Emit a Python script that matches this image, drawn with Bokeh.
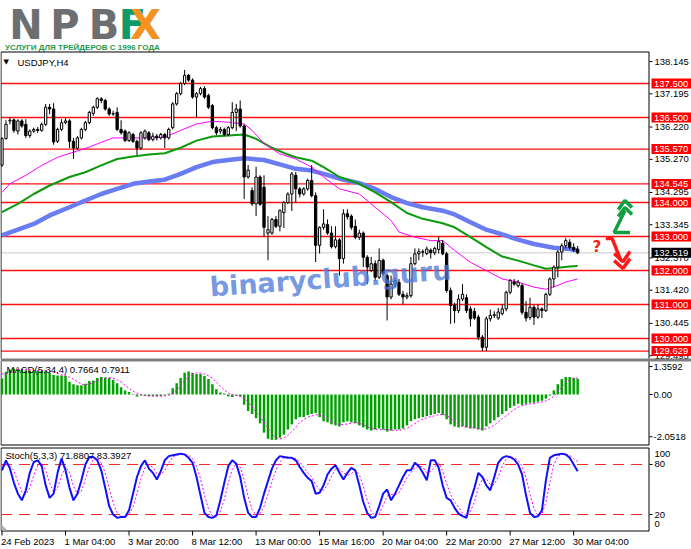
from bokeh.plotting import figure
from bokeh.models import Range1d
from bokeh.embed import file_html
from bokeh.resources import INLINE
from bokeh.core.properties import value

# ---------------- data ----------------
time_ticks = [0, 16, 32, 48, 64, 80, 96, 112, 128, 144]
time_labels = ["24 Feb 2023", "1 Mar 04:00", "3 Mar 20:00", "8 Mar 12:00", "13 Mar 00:00",
               "15 Mar 16:00", "20 Mar 04:00", "22 Mar 20:00", "27 Mar 12:00", "30 Mar 04:00"]

opens = [135.10, 135.88, 136.40, 136.43, 136.10, 136.40, 136.30, 135.97, 136.10, 136.15,
         136.12, 136.30, 136.80, 136.75, 135.80, 136.15, 136.35, 136.40, 135.80, 135.60,
         135.90, 136.15, 136.35, 136.62, 136.80, 137.05, 137.00, 136.75, 136.60, 136.65,
         136.15, 136.10, 135.82, 136.00, 135.80, 135.60, 135.90, 136.05, 135.85, 135.95,
         135.90, 136.00, 135.90, 136.20, 136.90, 137.20, 137.50, 137.74, 137.60, 137.10,
         137.20, 137.35, 137.15, 136.85, 136.20, 136.10, 136.15, 136.00, 136.20, 136.65,
         136.75, 136.25, 134.75, 134.35, 133.96, 134.75, 134.45, 133.10, 133.10, 133.50,
         133.30, 133.70, 134.00, 134.25, 134.80, 134.40, 134.25, 134.40, 134.65, 134.20,
         132.74, 133.27, 133.35, 133.10, 132.70, 132.90, 132.35, 133.67, 133.60, 133.30,
         132.98, 133.10, 132.39, 132.00, 132.20, 131.80, 132.30, 131.85, 131.22, 131.60,
         131.65, 131.30, 131.22, 131.26, 132.20, 132.49, 132.55, 132.50, 132.60, 132.52,
         132.62, 132.80, 132.49, 131.41, 130.97, 130.82, 131.16, 131.20, 130.87, 130.80,
         130.63, 130.04, 129.74, 130.58, 130.68, 130.60, 130.73, 130.87, 131.36, 131.66,
         131.55, 131.56, 130.77, 130.62, 130.92, 130.63, 130.87, 130.82, 131.30, 131.75,
         132.10, 132.54, 132.73, 132.83, 132.68, 132.63]
highs = [135.92, 136.42, 136.50, 136.47, 136.45, 136.45, 136.45, 136.15, 136.20, 136.22,
         136.35, 136.90, 136.90, 136.92, 136.20, 136.45, 136.48, 136.45, 135.90, 135.95,
         136.20, 136.40, 136.70, 136.85, 137.10, 137.10, 137.05, 136.80, 136.70, 136.80,
         136.42, 136.15, 136.10, 136.05, 135.85, 136.10, 136.15, 136.10, 136.05, 136.02,
         136.05, 136.05, 136.20, 136.95, 137.25, 137.55, 137.90, 137.78, 137.65, 137.25,
         137.40, 137.42, 137.20, 136.90, 136.25, 136.22, 136.20, 136.25, 136.95, 136.90,
         137.00, 136.30, 135.10, 134.45, 135.05, 134.80, 134.80, 133.60, 133.55, 133.60,
         133.80, 134.05, 134.30, 134.90, 134.90, 134.45, 134.45, 134.70, 135.10, 134.30,
         133.30, 133.80, 133.50, 133.30, 133.30, 132.95, 133.80, 133.80, 133.65, 133.50,
         133.20, 133.15, 132.45, 132.40, 132.30, 132.65, 132.35, 131.90, 131.85, 131.80,
         131.75, 131.40, 131.35, 132.40, 132.65, 132.65, 132.62, 132.70, 132.65, 132.70,
         133.00, 132.90, 132.55, 131.50, 131.05, 131.30, 131.60, 131.30, 130.95, 130.90,
         130.70, 130.10, 130.65, 130.85, 130.80, 130.90, 131.00, 131.40, 131.75, 131.75,
         131.72, 131.62, 131.10, 131.20, 130.98, 131.00, 130.92, 131.35, 131.80, 132.15,
         132.60, 132.80, 132.95, 132.92, 132.80, 132.72]
lows = [135.05, 135.85, 136.30, 136.05, 136.00, 136.20, 135.90, 135.90, 136.05, 136.05,
        136.08, 136.25, 136.60, 135.70, 135.75, 136.10, 136.30, 135.60, 135.28, 135.55,
        135.85, 136.10, 136.30, 136.55, 136.75, 136.92, 136.70, 136.55, 136.55, 136.10,
        136.00, 135.78, 135.78, 135.75, 135.40, 135.55, 135.85, 135.80, 135.80, 135.82,
        135.85, 135.60, 135.85, 136.15, 136.85, 137.15, 137.45, 137.55, 137.05, 136.50,
        137.15, 137.05, 136.75, 136.15, 135.98, 136.02, 135.95, 135.95, 136.15, 136.10,
        136.20, 134.10, 134.70, 133.90, 133.60, 133.90, 133.00, 132.30, 133.05, 133.25,
        133.15, 133.25, 133.95, 133.75, 134.00, 134.15, 134.20, 134.35, 134.15, 132.25,
        132.50, 133.20, 133.05, 132.65, 132.65, 131.85, 132.20, 133.50, 133.20, 132.92,
        132.90, 132.10, 131.60, 131.95, 131.70, 131.75, 131.85, 130.53, 131.15, 131.50,
        131.25, 131.00, 131.15, 131.20, 132.15, 132.30, 132.40, 132.45, 132.35, 132.45,
        132.50, 132.45, 131.35, 130.43, 130.45, 130.75, 131.10, 130.75, 130.35, 130.55,
        129.95, 129.63, 129.63, 130.50, 130.60, 130.55, 130.68, 130.80, 131.30, 131.55,
        131.50, 130.70, 130.50, 130.55, 130.40, 130.58, 130.60, 130.78, 131.25, 131.50,
        131.80, 132.30, 132.65, 132.62, 132.55, 132.48]
closes = [135.88, 136.30, 136.42, 136.12, 136.40, 136.25, 135.97, 136.10, 136.15, 136.12,
          136.30, 136.80, 136.75, 135.78, 136.15, 136.35, 136.40, 135.80, 135.60, 135.90,
          136.15, 136.35, 136.65, 136.80, 137.05, 137.00, 136.75, 136.60, 136.62, 136.15,
          136.05, 135.82, 136.05, 135.80, 135.60, 136.05, 136.10, 135.85, 135.95, 135.90,
          136.00, 135.90, 136.15, 136.90, 137.20, 137.50, 137.74, 137.60, 137.10, 137.20,
          137.35, 137.10, 136.80, 136.20, 136.05, 136.15, 136.00, 136.20, 136.65, 136.75,
          136.25, 134.75, 134.95, 133.96, 134.75, 133.95, 133.27, 133.20, 133.50, 133.30,
          133.76, 134.00, 134.25, 134.84, 134.40, 134.25, 134.40, 134.65, 134.20, 132.74,
          133.27, 133.37, 133.10, 132.70, 132.90, 132.35, 133.67, 133.58, 133.27, 132.98,
          133.10, 132.39, 132.10, 132.20, 131.80, 132.30, 131.90, 131.22, 131.60, 131.70,
          131.30, 131.22, 131.26, 132.20, 132.49, 132.55, 132.54, 132.63, 132.52, 132.65,
          132.85, 132.49, 131.41, 130.97, 130.82, 131.16, 131.30, 130.82, 130.58, 130.60,
          130.04, 129.74, 130.58, 130.68, 130.70, 130.78, 130.87, 131.36, 131.71, 131.60,
          131.66, 130.77, 130.60, 130.92, 130.63, 130.87, 130.82, 131.30, 131.75, 132.10,
          132.54, 132.73, 132.88, 132.68, 132.60, 132.519]

ma_slow_bar = [0, 8, 12, 17, 21, 25, 29, 33, 37, 41, 45, 49, 53, 57, 61, 66, 70, 74, 78, 81,
               85, 90, 94, 98, 102, 106, 111, 114, 118, 122, 126, 130, 134, 139, 143, 145]
ma_slow = [133.03, 133.37, 133.62, 133.86, 134.06, 134.25, 134.40, 134.55, 134.62, 134.67,
           134.84, 135.04, 135.19, 135.25, 135.30, 135.25, 135.12, 134.99, 134.94, 134.84,
           134.70, 134.57, 134.40, 134.16, 133.98, 133.86, 133.76, 133.65, 133.42, 133.20,
           133.06, 132.91, 132.78, 132.67, 132.63, 132.59]
ma_mid_bar = [0, 4, 8, 12, 17, 21, 25, 29, 33, 37, 41, 45, 49, 53, 57, 61, 64, 68, 72, 74,
              78, 81, 85, 90, 94, 98, 102, 106, 111, 114, 118, 122, 126, 130, 134, 137, 140, 143, 145]
ma_mid = [133.72, 133.96, 134.25, 134.50, 134.75, 134.89, 135.09, 135.28, 135.35, 135.41,
          135.45, 135.61, 135.82, 135.94, 135.97, 136.00, 135.87, 135.61, 135.41, 135.33,
          135.23, 135.04, 134.75, 134.55, 134.30, 134.01, 133.69, 133.52, 133.39, 133.27,
          132.98, 132.69, 132.41, 132.29, 132.15, 132.05, 132.08, 132.12, 132.13]
ma_fast_bar = [0, 2, 6, 10, 14, 18, 22, 25, 28, 33, 37, 41, 45, 49, 53, 57, 61, 63, 66, 70,
               74, 78, 81, 85, 90, 94, 98, 100, 104, 108, 111, 114, 118, 122, 126, 130, 134,
               137, 140, 142, 145]
ma_fast = [134.30, 134.55, 134.80, 135.09, 135.33, 135.48, 135.63, 135.77, 135.90, 135.90,
           135.90, 135.92, 136.12, 136.31, 136.39, 136.36, 136.31, 136.12, 135.73, 135.43,
           135.28, 135.04, 134.75, 134.40, 134.25, 133.86, 133.47, 133.13, 132.98, 132.88,
           132.88, 132.59, 132.24, 132.00, 131.75, 131.66, 131.51, 131.45, 131.56, 131.66, 131.75]

price_ticks = [138.145, 137.195, 136.220, 135.270, 134.295, 133.345, 132.370, 131.420, 130.445, 129.495]
levels = [137.500, 136.500, 135.570, 134.545, 134.000, 133.000, 132.000, 131.000, 130.000, 129.629]
last_price = 132.519

macd_main = [0.78, 1.10, 1.20, 1.26, 1.22, 1.20, 1.18, 1.15, 1.15, 1.15,
             1.15, 1.18, 1.05, 0.95, 0.92, 0.92, 0.90, 0.62, 0.50, 0.45,
             0.45, 0.52, 0.65, 0.68, 0.80, 0.85, 0.83, 0.80, 0.72, 0.55,
             0.35, 0.20, 0.12, 0.03, -0.10, -0.05, -0.07, -0.08, -0.08, -0.08,
             -0.07, -0.05, 0.05, 0.30, 0.55, 0.80, 1.05, 1.12, 1.05, 1.00,
             1.00, 0.90, 0.75, 0.50, 0.25, 0.10, 0.05, -0.10, -0.12, -0.05,
             -0.10, -0.50, -0.80, -0.95, -1.15, -1.40, -1.85, -2.15, -2.20, -2.20,
             -2.10, -1.95, -1.70, -1.45, -1.20, -1.10, -1.10, -1.00, -0.95, -0.90,
             -1.10, -1.30, -1.35, -1.45, -1.50, -1.55, -1.35, -1.30, -1.35, -1.40,
             -1.50, -1.60, -1.70, -1.75, -1.70, -1.65, -1.70, -1.80, -1.75, -1.70,
             -1.70, -1.65, -1.50, -1.30, -1.20, -1.15, -1.10, -1.05, -1.00, -0.95,
             -0.90, -1.00, -1.20, -1.45, -1.55, -1.60, -1.55, -1.60, -1.65, -1.65,
             -1.70, -1.75, -1.55, -1.40, -1.25, -1.10, -0.95, -0.80, -0.65, -0.55,
             -0.45, -0.50, -0.45, -0.40, -0.40, -0.35, -0.30, -0.20, -0.05, 0.20,
             0.50, 0.75, 0.85, 0.85, 0.80, 0.7664]
macd_signal = [1.00, 1.00, 1.05, 1.09, 1.20, 1.22, 1.21, 1.19, 1.17, 1.16,
               1.15, 1.16, 1.13, 1.08, 1.02, 0.96, 0.92, 0.84, 0.74, 0.62,
               0.50, 0.48, 0.52, 0.57, 0.66, 0.74, 0.79, 0.82, 0.80, 0.72,
               0.60, 0.45, 0.30, 0.17, 0.06, 0.00, -0.05, -0.07, -0.07, -0.08,
               -0.08, -0.07, -0.04, 0.06, 0.21, 0.42, 0.67, 0.88, 1.00, 1.05,
               1.04, 0.99, 0.91, 0.79, 0.60, 0.40, 0.22, 0.08, -0.02, -0.05,
               -0.09, -0.19, -0.37, -0.59, -0.85, -1.08, -1.34, -1.64, -1.90, -2.10,
               -2.16, -2.11, -1.99, -1.80, -1.58, -1.36, -1.21, -1.10, -1.04, -0.99,
               -0.99, -1.06, -1.16, -1.30, -1.40, -1.46, -1.46, -1.43, -1.39, -1.35,
               -1.39, -1.46, -1.55, -1.64, -1.69, -1.70, -1.70, -1.71, -1.73, -1.74,
               -1.74, -1.70, -1.64, -1.54, -1.41, -1.29, -1.19, -1.13, -1.08, -1.03,
               -0.98, -0.96, -1.01, -1.14, -1.30, -1.45, -1.54, -1.58, -1.60, -1.61,
               -1.65, -1.69, -1.66, -1.60, -1.49, -1.33, -1.18, -1.03, -0.88, -0.74,
               -0.61, -0.54, -0.49, -0.45, -0.44, -0.40, -0.36, -0.31, -0.23, -0.09,
               0.11, 0.35, 0.58, 0.74, 0.81, 0.7911]
macd_ticks = [1.3592, 0.0, -2.0518]
macd_tick_labels = ["1.3592", "0.00", "-2.0518"]

stoch_k = [73, 85, 75, 58, 45, 37, 49, 70, 83, 85, 78, 55, 40, 45, 70, 87, 73, 52, 37, 45,
           61, 80, 89, 89, 85, 73, 52, 30, 20, 16, 17, 17, 25, 45, 65, 78, 85, 75, 70, 62,
           72, 85, 90, 91, 92, 93, 92, 88, 82, 65, 43, 22, 17, 16, 19, 37, 58, 78, 85, 81,
           65, 40, 22, 17, 17, 28, 45, 60, 75, 85, 90, 89, 88, 88, 85, 77, 70, 64, 60, 45,
           46, 55, 68, 75, 79, 70, 62, 70, 76, 73, 55, 35, 22, 16, 17, 30, 45, 50, 37, 45,
           55, 65, 73, 73, 82, 78, 70, 61, 85, 85, 76, 55, 40, 37, 28, 21, 18, 16, 37, 52,
           70, 65, 55, 49, 65, 82, 88, 90, 89, 86, 80, 68, 43, 22, 17, 18, 25, 61, 88, 91,
           92, 93, 92, 88, 80, 71.8807]
stoch_d = [78, 80, 78, 73, 59, 47, 44, 52, 67, 79, 82, 73, 58, 47, 52, 67, 77, 71, 54, 45,
           48, 62, 77, 86, 88, 82, 70, 52, 34, 22, 18, 17, 20, 29, 45, 63, 76, 79, 77, 69,
           68, 73, 82, 89, 91, 92, 92, 91, 87, 78, 63, 43, 27, 18, 17, 24, 38, 58, 74, 81,
           77, 62, 42, 26, 19, 21, 30, 44, 60, 73, 83, 88, 89, 88, 87, 83, 77, 70, 65, 56,
           50, 49, 56, 66, 74, 75, 70, 67, 69, 73, 68, 54, 37, 24, 18, 21, 31, 42, 44, 44,
           46, 55, 64, 70, 76, 78, 77, 70, 72, 77, 82, 72, 57, 44, 35, 29, 22, 18, 24, 35,
           53, 62, 63, 56, 56, 65, 78, 87, 89, 88, 85, 78, 64, 44, 27, 19, 20, 35, 58, 80,
           90, 92, 92, 91, 87, 83.3927]
stoch_levels = [80, 20]
stoch_tick_labels = ["80", "20"]

# forecast arrows (bar index, price)
up_arrow_x = [[158.2, 154.2, 156.9], [155.2, 156.9, 158.7], [155.2, 156.9, 158.7]]
up_arrow_y = [[133.12, 133.12, 133.76], [133.79, 134.06, 133.85], [133.59, 133.85, 133.65]]
down_arrow_x = [[152.1, 153.7, 155.9], [154.2, 156.4, 158.2], [154.2, 156.4, 158.2]]
down_arrow_y = [[132.94, 132.94, 132.29], [132.29, 132.06, 132.35], [132.50, 132.26, 132.56]]

# ---------------- layout (pixels of the 691x548 canvas) ----------------
W, H = 691, 548
BAR0_PX, BAR_PX = 1.5, 3.97           # x pixel of bar 0, pixels per bar
PRICE_REF, PRICE_REF_PX, PX_PER_YEN = 137.5, 83.0, 34.0
MACD_ZERO_PX, PX_PER_MACD = 394.0, 20.6
ST_ZERO_PX, PX_PER_ST = 530.7, 0.834
FR_L, FR_R = 0.5, 648.5
MAIN_T, MAIN_B = 51.5, 358.0
MACD_T, MACD_B = 361.0, 444.5
ST_T, ST_B = 447.5, 530.5
FONT = value("Liberation Sans")
FS = value("9.5px")


def X(px):
    return (px - BAR0_PX) / BAR_PX


def Y(py):
    return PRICE_REF - (py - PRICE_REF_PX) / PX_PER_YEN


p = figure(width=W, height=H, toolbar_location=None, output_backend="svg",
           x_range=Range1d(X(0), X(W)), y_range=Range1d(Y(H), Y(0)),
           x_axis_location=None, y_axis_location=None, min_border=0)
p.extra_y_ranges = {
    "macd": Range1d((MACD_ZERO_PX - H) / PX_PER_MACD, MACD_ZERO_PX / PX_PER_MACD),
    "stoch": Range1d((ST_ZERO_PX - H) / PX_PER_ST, ST_ZERO_PX / PX_PER_ST),
}
p.grid.visible = False
p.outline_line_color = None
p.background_fill_color = "white"
p.border_fill_color = "white"

idx = list(range(len(closes)))
xl, xr = X(FR_L), X(FR_R)

# ---------- logo ----------
for ch, cx, col in [("N", 25.5, "#6d6e71"), ("P", 64.5, "#6d6e71"), ("B", 103.5, "#6d6e71"),
                    ("F", 132, "#0c9c6c"), ("X", 145, "#f39220")]:
    p.text(x=[X(cx)], y=[Y(24.5)], text=[ch], text_font=value("DejaVu Sans"),
           text_font_style="bold", text_font_size=value("40px"), text_color=col,
           text_baseline="middle", text_align="center")
p.text(x=[X(82)], y=[Y(46.5)], text=["УСЛУГИ ДЛЯ ТРЕЙДЕРОВ С 1996 ГОДА"],
       text_font=FONT, text_font_style="bold",
       text_font_size=value("8px"), text_color="#1e9a4e", text_baseline="middle",
       text_align="center")

# ---------- main price panel ----------
p.line([xl, xr], [last_price, last_price], line_color="#c8c8c8", line_width=1)
for lv in levels:
    p.line([xl, xr], [lv, lv], line_color="#ff1010", line_width=1.3)

p.line(ma_slow_bar, ma_slow, line_color="#6a7cf2", line_width=4.5)
p.line(ma_mid_bar, ma_mid, line_color="#0a9a0a", line_width=2)
p.line(ma_fast_bar, ma_fast, line_color="#ff00ff", line_width=1)

up = [i for i in idx if closes[i] >= opens[i]]
dn = [i for i in idx if closes[i] < opens[i]]
p.segment(x0=idx, y0=lows, x1=idx, y1=highs, line_color="black", line_width=1)
p.vbar(x=up, width=0.58, top=[closes[i] for i in up], bottom=[opens[i] for i in up],
       fill_color="white", line_color="black", line_width=1)
p.vbar(x=dn, width=0.58, top=[opens[i] for i in dn], bottom=[closes[i] for i in dn],
       fill_color="black", line_color="black", line_width=1)

p.multi_line(up_arrow_x, up_arrow_y, line_color="#10a040", line_width=3.5)
p.multi_line(down_arrow_x, down_arrow_y, line_color="#ff1a1a", line_width=3.5)
p.text(x=[X(592)], y=[Y(246)], text=["?"], text_color="#ff1a1a", text_font=value("DejaVu Sans"),
       text_font_style="bold", text_font_size=value("15px"), text_baseline="middle",
       text_align="left")

p.text(x=[X(330)], y=[Y(278)], text=["binaryclub.guru"], angle=0.07, text_align="center",
       text_baseline="middle", text_font=value("DejaVu Sans"), text_font_style="bold",
       text_font_size=value("27px"), text_color="#4a78d8", text_alpha=0.75)

p.text(x=[X(3)], y=[Y(61.5)], text=["\u25bc"], text_font=value("DejaVu Sans"),
       text_font_size=value("7px"), text_color="black", text_baseline="middle", text_align="left")
p.text(x=[X(17)], y=[Y(61.5)], text=["USDJPY,H4"], text_font=FONT, text_font_size=FS,
       text_color="black", text_baseline="middle", text_align="left")

# price scale
p.segment(x0=[X(649)] * len(price_ticks), x1=[X(652)] * len(price_ticks),
          y0=price_ticks, y1=price_ticks, line_color="black", line_width=1)
p.text(x=[X(654)] * len(price_ticks), y=price_ticks, text=["%.3f" % t for t in price_ticks],
       text_font=FONT, text_font_size=FS, text_color="black", text_baseline="middle",
       text_align="left")
half = 5.0 / PX_PER_YEN
p.quad(left=[X(651)] * len(levels), right=[X(W)] * len(levels),
       top=[lv + half for lv in levels], bottom=[lv - half for lv in levels],
       fill_color="#ff0000", line_color=None)
p.text(x=[X(653.5)] * len(levels), y=levels, text=["%.3f" % lv for lv in levels],
       text_font=FONT, text_font_size=FS, text_color="white", text_baseline="middle",
       text_align="left")
p.quad(left=[X(651)], right=[X(W)], top=[last_price + half], bottom=[last_price - half],
       fill_color="black", line_color=None)
p.text(x=[X(653.5)], y=[last_price], text=["%.3f" % last_price], text_font=FONT,
       text_font_size=FS, text_color="white", text_baseline="middle", text_align="left")

# frame borders of the three panels and the splitter
p.quad(left=[X(0)], right=[X(W)], top=[Y(MAIN_B)], bottom=[Y(MACD_T)],
       fill_color="#7f7f7f", line_color=None)
p.multi_line(
    xs=[[xl, xr], [xl, xl], [xr, xr],
        [xl, xl], [xr, xr], [xl, xr],
        [xl, xr], [xl, xl], [xr, xr], [xl, xr]],
    ys=[[Y(MAIN_T)] * 2, [Y(MAIN_T), Y(MAIN_B)], [Y(MAIN_T), Y(MAIN_B)],
        [Y(MACD_T), Y(MACD_B)], [Y(MACD_T), Y(MACD_B)], [Y(MACD_B)] * 2,
        [Y(ST_T)] * 2, [Y(ST_T), Y(ST_B)], [Y(ST_T), Y(ST_B)], [Y(ST_B)] * 2],
    line_color="black", line_width=1)

# ---------- MACD panel ----------
p.vbar(x=idx, width=0.62, top=macd_main, bottom=0, fill_color="#00a000", line_color=None,
       y_range_name="macd")
p.line(idx, macd_signal, line_color="#ff00ff", line_width=1, line_dash="2 2", y_range_name="macd")
p.segment(x0=[X(649)] * 3, x1=[X(652)] * 3, y0=macd_ticks, y1=macd_ticks, line_color="black",
          y_range_name="macd")
p.text(x=[X(653)] * 3, y=macd_ticks, text=macd_tick_labels, text_font=FONT, text_font_size=FS,
       text_color="black", text_baseline="middle", text_align="left", y_range_name="macd")
p.text(x=[X(6)], y=[Y(369)], text=["MACD(5,34,4) 0.7664 0.7911"], text_font=FONT,
       text_font_size=FS, text_color="black", text_baseline="middle", text_align="left")

# ---------- Stochastic panel ----------
for lv in stoch_levels:
    p.line([xl, xr], [lv, lv], line_color="#ff2020", line_width=1, line_dash="11 7",
           y_range_name="stoch")
p.line(idx, stoch_d, line_color="#ff00ff", line_width=1, line_dash="2 2", y_range_name="stoch")
p.line(idx, stoch_k, line_color="#1010ff", line_width=2, y_range_name="stoch")
p.segment(x0=[X(649)] * 2, x1=[X(652)] * 2, y0=stoch_levels, y1=stoch_levels,
          line_color="black", y_range_name="stoch")
p.text(x=[X(654)] * 2, y=stoch_levels, text=stoch_tick_labels, text_font=FONT,
       text_font_size=FS, text_color="black", text_baseline="middle", text_align="left",
       y_range_name="stoch")
p.text(x=[X(654), X(654)], y=[Y(453), Y(523)], text=["100", "0"], text_font=FONT,
       text_font_size=FS, text_color="black", text_baseline="middle", text_align="left")
p.text(x=[X(5)], y=[Y(455)], text=["Stoch(5,3,3) 71.8807 83.3927"], text_font=FONT,
       text_font_size=FS, text_color="black", text_baseline="middle", text_align="left")
p.patch([X(1), X(1), X(7)], [Y(524), Y(530), Y(530)], fill_color="#b0b0b0", line_color=None)

# ---------- time scale ----------
p.segment(x0=time_ticks, x1=time_ticks, y0=[Y(ST_B)] * len(time_ticks),
          y1=[Y(535)] * len(time_ticks), line_color="black", line_width=1)
p.text(x=time_ticks, y=[Y(540.5)] * len(time_ticks), text=time_labels, x_offset=-1,
       text_font=FONT, text_font_size=FS, text_color="black", text_baseline="middle",
       text_align="left")

open("out.html", "w").write(file_html(p, INLINE))
